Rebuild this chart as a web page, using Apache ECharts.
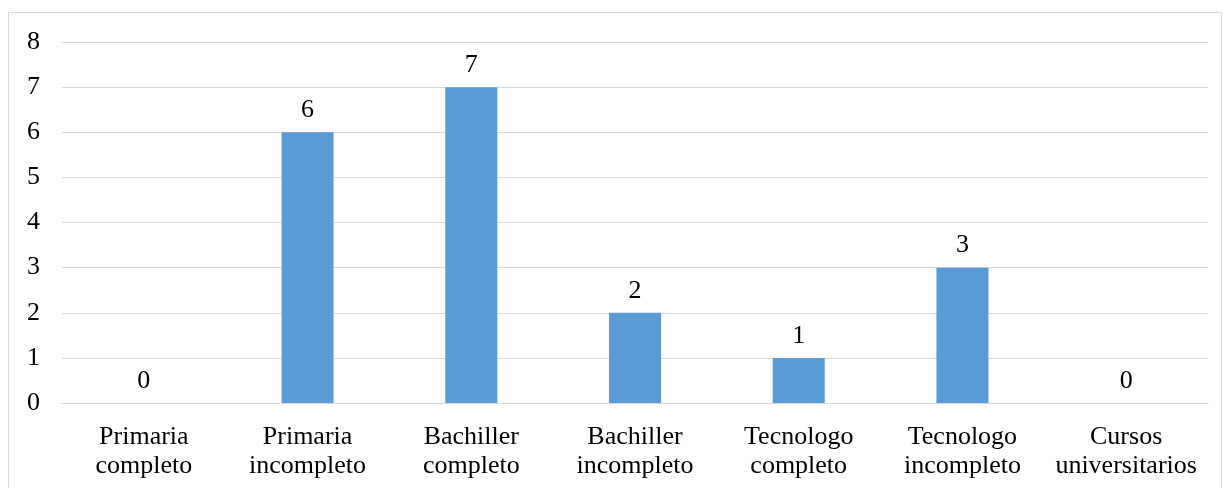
<!DOCTYPE html>
<html>
<head>
<meta charset="utf-8">
<script src="https://cdn.jsdelivr.net/npm/echarts@6/dist/echarts.min.js"></script>
<style>html,body{margin:0;padding:0;background:#fff;}#c{width:1223px;height:488px;}</style>
</head>
<body>
<div id="c"></div>
<script>
const categories = ["Primaria\ncompleto", "Primaria\nincompleto", "Bachiller\ncompleto", "Bachiller\nincompleto", "Tecnologo\ncompleto", "Tecnologo\nincompleto", "Cursos\nuniversitarios"];
const values = [0, 6, 7, 2, 1, 3, 0];
const yTicks = [0, 1, 2, 3, 4, 5, 6, 7, 8];

const font = "'Liberation Serif', 'Times New Roman', serif";
const chart = echarts.init(document.getElementById('c'));
chart.setOption({
  animation: false,
  textStyle: { fontFamily: font },
  graphic: [{
    type: 'rect', shape: { x: 8.5, y: 12.5, width: 1213, height: 490 },
    style: { fill: 'none', stroke: '#d9d9d9', lineWidth: 1 }, silent: true
  }],
  grid: { left: 62, right: 15, top: 42, bottom: 85 },
  xAxis: {
    type: 'category', data: categories,
    axisLine: { show: true, lineStyle: { color: '#d9d9d9', width: 1 } },
    axisTick: { show: false },
    axisLabel: { color: '#000', fontSize: 26, fontFamily: font, lineHeight: 29, margin: 20, interval: 0, hideOverlap: false }
  },
  yAxis: {
    type: 'value', min: 0, max: yTicks[yTicks.length - 1], interval: 1,
    axisLine: { show: false }, axisTick: { show: false },
    axisLabel: { color: '#000', fontSize: 26, fontFamily: font, margin: 22 },
    splitLine: { lineStyle: { color: '#d9d9d9', width: 1 } }
  },
  series: [{
    type: 'bar', data: values, barWidth: 52,
    itemStyle: { color: '#5B9BD5' },
    label: { show: true, position: 'top', distance: 9, color: '#000', fontSize: 26, fontFamily: font }
  }]
});
</script>
</body>
</html>
